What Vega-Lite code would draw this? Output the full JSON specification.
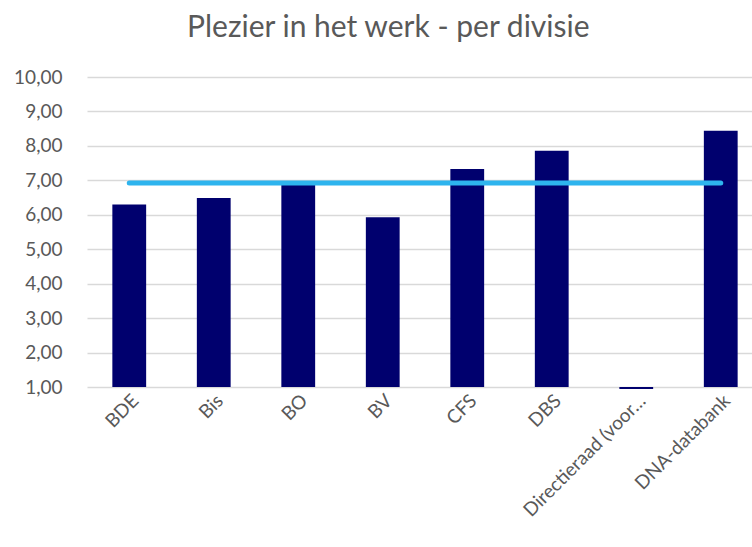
{
  "$schema": "https://vega.github.io/schema/vega-lite/v6.json",
  "width": 676,
  "height": 310,
  "padding": {"left": 13, "top": 13, "right": 0, "bottom": 5},
  "title": {"text": "Plezier in het werk - per divisie", "fontSize": 30, "font": "Lato", "fontWeight": "normal", "color": "#595959", "offset": 25, "anchor": "middle", "frame": "bounds"},
  "data": {"values": [
    {"divisie": "BDE", "score": 6.30, "gemiddelde": 6.92},
    {"divisie": "Bis", "score": 6.49, "gemiddelde": 6.92},
    {"divisie": "BO", "score": 6.90, "gemiddelde": 6.92},
    {"divisie": "BV", "score": 5.93, "gemiddelde": 6.92},
    {"divisie": "CFS", "score": 7.33, "gemiddelde": 6.92},
    {"divisie": "DBS", "score": 7.86, "gemiddelde": 6.92},
    {"divisie": "Directieraad (voor…", "score": 0.94, "gemiddelde": 6.92},
    {"divisie": "DNA-databank", "score": 8.44, "gemiddelde": 6.92}
  ]},
  "encoding": {
    "x": {"field": "divisie", "type": "nominal", "sort": null,
      "scale": {"paddingInner": 0.6, "paddingOuter": 0.3},
      "axis": {"title": null, "labelAngle": -45, "labelAlign": "right", "labelBaseline": "top", "labelFont": "Lato", "labelFontSize": 19, "labelColor": "#595959", "ticks": false, "domain": false, "labelPadding": 4, "labelLimit": 250}}
  },
  "layer": [
    {
      "mark": {"type": "bar", "color": "#00006E", "clip": false},
      "encoding": {
        "y": {"field": "score", "type": "quantitative",
          "scale": {"domain": [1, 10], "zero": false, "nice": false, "clamp": false},
          "axis": {"title": null, "values": [1,2,3,4,5,6,7,8,9,10], "labelOverlap": false, "labelExpr": "replace(format(datum.value, '.2f'), '.', ',')", "labelFont": "Lato", "labelFontSize": 19, "labelColor": "#595959", "ticks": false, "domain": false, "gridColor": "#D9D9D9", "gridWidth": 1.5, "labelPadding": 25}},
        "y2": {"datum": 1}
      }
    },
    {
      "mark": {"type": "line", "color": "#2EB4EE", "strokeWidth": 5, "strokeCap": "round"},
      "encoding": {
        "y": {"field": "gemiddelde", "type": "quantitative",
          "axis": {"title": null, "values": [1,2,3,4,5,6,7,8,9,10], "labelOverlap": false, "labelExpr": "replace(format(datum.value, '.2f'), '.', ',')", "labelFont": "Lato", "labelFontSize": 19, "labelColor": "#595959", "ticks": false, "domain": false, "gridColor": "#D9D9D9", "gridWidth": 1.5, "labelPadding": 25}}
      }
    }
  ],
  "config": {"view": {"stroke": null}}
}
